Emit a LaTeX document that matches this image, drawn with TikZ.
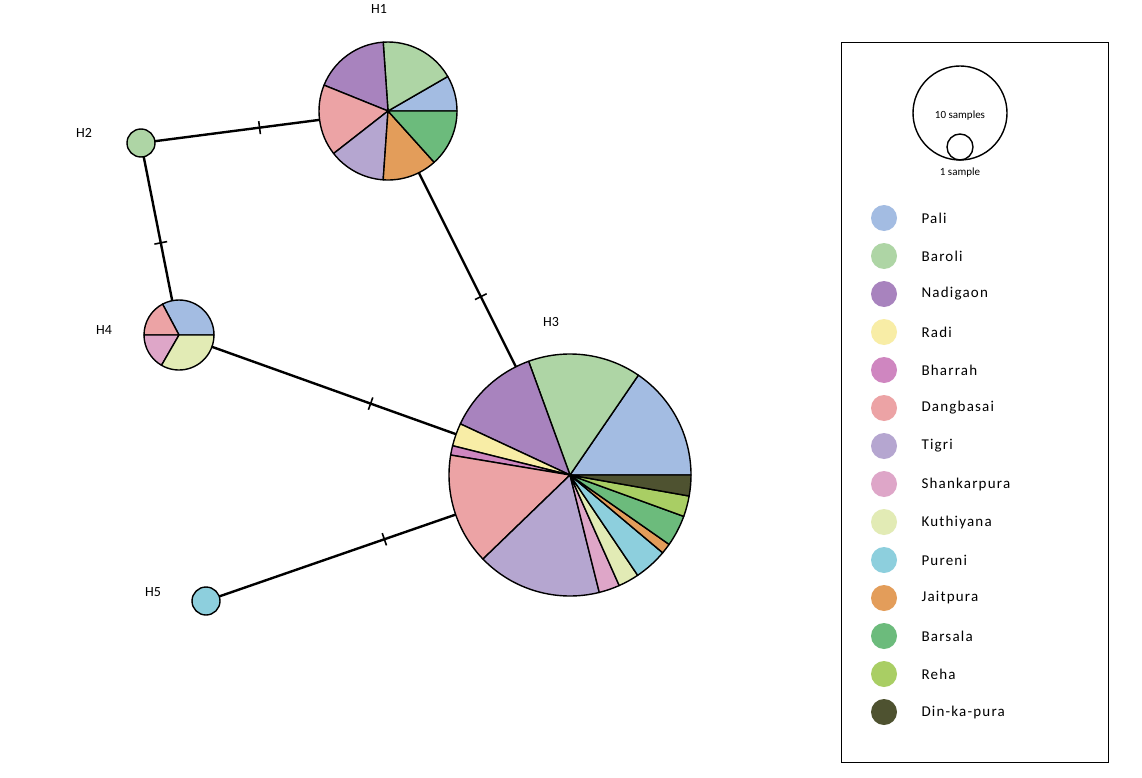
\documentclass[tikz,border=0pt]{standalone}
\usepackage{fontspec}
\setmainfont{Carlito}
\definecolor{cPali}{HTML}{A3BCE2}
\definecolor{cBaroli}{HTML}{AED5A5}
\definecolor{cNadi}{HTML}{A883BE}
\definecolor{cRadi}{HTML}{F8EDA6}
\definecolor{cBharrah}{HTML}{CF86C0}
\definecolor{cDang}{HTML}{ECA3A5}
\definecolor{cTigri}{HTML}{B5A6D0}
\definecolor{cShank}{HTML}{DEA6C8}
\definecolor{cKuth}{HTML}{E2EBB5}
\definecolor{cPureni}{HTML}{8DCFDD}
\definecolor{cJait}{HTML}{E39D5A}
\definecolor{cBars}{HTML}{6CBB7C}
\definecolor{cReha}{HTML}{A9CE64}
\definecolor{cDin}{HTML}{4E5230}
\newcommand\pslice[5]{\filldraw[fill=#5,line width=1.4pt,line join=round] (#1) -- ++({-(#3)}:#2) arc[start angle={-(#3)}, end angle={-(#4)}, radius=#2] -- cycle;}
\tikzset{hap/.style={circle,inner sep=0pt,draw=none},
 link/.style={line width=2.4pt},
 tick/.style={pos=#1,sloped,inner sep=0pt,font=\relax},
 hlab/.style={font=\fontsize{14}{16}\selectfont},
 leg/.style={circle,minimum size=26pt,inner sep=0pt},
 legt/.style={anchor=west,font=\fontsize{15}{17}\selectfont\addfontfeature{LetterSpace=8}}}
\begin{document}
\begin{tikzpicture}[x=1pt,y=-1pt]
\useasboundingbox[fill=white] (0,0) rectangle (1142,778);
\node[hap,minimum size=138pt] (H1) at (388,111) {};
\node[hap,minimum size=28pt] (H2) at (141,143) {};
\node[hap,minimum size=242pt] (H3) at (570,475) {};
\node[hap,minimum size=70pt] (H4) at (179,335) {};
\node[hap,minimum size=28pt] (H5) at (206,601) {};
\draw[link] (H2.center) -- (H1.center) node[tick=0.48]{\rule{1.6pt}{13pt}};
\draw[link] (H2.center) -- (H4.center) node[tick=0.52]{\rule{1.6pt}{13pt}};
\draw[link] (H1.center) -- (H3.center) node[tick=0.51]{\rule{1.6pt}{13pt}};
\draw[link] (H4.center) -- (H3.center) node[tick=0.49]{\rule{1.6pt}{13pt}};
\draw[link] (H5.center) -- (H3.center) node[tick=0.49]{\rule{1.6pt}{13pt}};
% H1
\pslice{H1.center}{69}{0}{30}{cPali}
\pslice{H1.center}{69}{30}{94}{cBaroli}
\pslice{H1.center}{69}{94}{158}{cNadi}
\pslice{H1.center}{69}{158}{218}{cDang}
\pslice{H1.center}{69}{218}{266}{cTigri}
\pslice{H1.center}{69}{266}{312}{cJait}
\pslice{H1.center}{69}{312}{360}{cBars}
% H2, H5
\filldraw[fill=cBaroli,line width=1.4pt] (H2.center) circle[radius=14];
\filldraw[fill=cPureni,line width=1.4pt] (H5.center) circle[radius=14];
% H4
\pslice{H4.center}{35}{0}{118}{cPali}
\pslice{H4.center}{35}{118}{180}{cDang}
\pslice{H4.center}{35}{180}{240}{cShank}
\pslice{H4.center}{35}{240}{360}{cKuth}
% H3
\pslice{H3.center}{121}{0}{55.6}{cPali}
\pslice{H3.center}{121}{55.6}{110}{cBaroli}
\pslice{H3.center}{121}{110}{155}{cNadi}
\pslice{H3.center}{121}{155}{166}{cRadi}
\pslice{H3.center}{121}{166}{170.5}{cBharrah}
\pslice{H3.center}{121}{170.5}{224}{cDang}
\pslice{H3.center}{121}{224}{284}{cTigri}
\pslice{H3.center}{121}{284}{294}{cShank}
\pslice{H3.center}{121}{294}{304}{cKuth}
\pslice{H3.center}{121}{304}{320}{cPureni}
\pslice{H3.center}{121}{320}{325}{cJait}
\pslice{H3.center}{121}{325}{340}{cBars}
\pslice{H3.center}{121}{340}{350}{cReha}
\pslice{H3.center}{121}{350}{360}{cDin}
% labels
\node[hlab] (L1) at (379,9) {H1};
\node[hlab] (L2) at (84,133) {H2};
\node[hlab] (L3) at (551,322) {H3};
\node[hlab] (L4) at (104,330) {H4};
\node[hlab] (L5) at (153,592) {H5};
% legend
\node[draw,line width=1.2pt,minimum width=267pt,minimum height=720pt,anchor=north west] (box) at (841,42) {};
\draw[line width=1.4pt] (960,113) circle[radius=47];
\draw[line width=1.4pt] (960,147) circle[radius=13];
\node[font=\fontsize{11}{12}\selectfont] (s10) at (960,116) {10 samples};
\node[font=\fontsize{11}{12}\selectfont] (s1) at (960,173) {1 sample};
\foreach \c/\t [count=\i from 0] in {cPali/Pali,cBaroli/Baroli,cNadi/Nadigaon,cRadi/Radi,cBharrah/Bharrah,cDang/Dangbasai,cTigri/Tigri,cShank/Shankarpura,cKuth/Kuthiyana,cPureni/Pureni,cJait/Jaitpura,cBars/Barsala,cReha/Reha,cDin/Din-ka-pura}{
 \node[leg,fill=\c] (lc\i) at (884,{218+38*\i}) {};
 \node[legt] (lt\i) at (918,{218+38*\i}) {\t};
}
\end{tikzpicture}
\end{document}
